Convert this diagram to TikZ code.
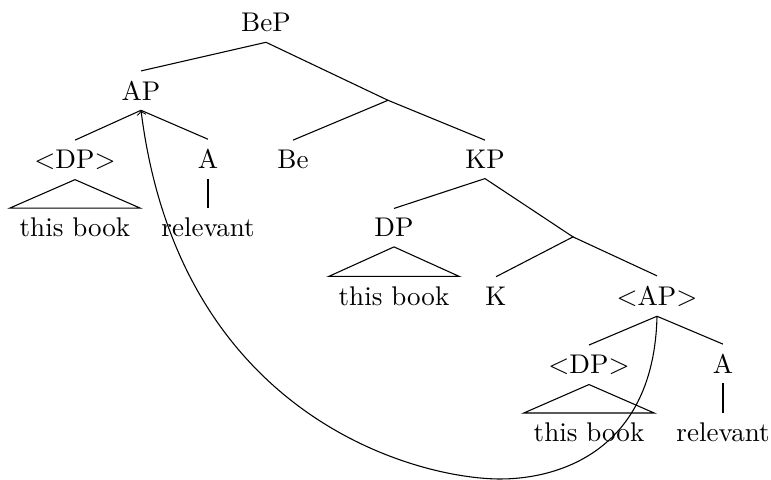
\documentclass[tikz,border=0pt]{standalone}
\begin{document}
\begin{tikzpicture}[x=0.37pt,y=-0.37pt,every node/.style={anchor=base,inner sep=3.5pt}]
        \useasboundingbox (0,0) rectangle (771,480);
        % upper tree
        \node (bep) at (266,32) {BeP};
        \node (ap) at (141,100.3) {AP};
        \coordinate (bebar) at (388,100.3);
        \node (dpa) at (75,168.6) {$<$DP$>$};
        \node (aa) at (208,168.6) {A};
        \node (be) at (293,168.6) {Be};
        \node (kp) at (485,168.6) {KP};
        \node (tba) at (75,236.9) {this book};
        \node (rela) at (208,236.9) {relevant};
        \node (dpb) at (394,236.9) {DP};
        \coordinate (kbar) at (573,236.9);
        \node (tbb) at (394,305.2) {this book};
        \node (k) at (496,305.2) {K};
        \node (apl) at (657,305.2) {$<$AP$>$};
        % lower copy
        \node (dpc) at (589,373.5) {$<$DP$>$};
        \node (ac) at (723,373.5) {A};
        \node (tbc) at (589,441.8) {this book};
        \node (relc) at (723,441.8) {relevant};
        \coordinate (bottom) at (500,479);

        \draw (bep.south) -- (ap.north);
        \draw (bep.south) -- (bebar) -- (be.north);
        \draw (bebar) -- (kp.north);
        \draw (ap.south) -- (dpa.north);
        \draw (ap.south) -- (aa.north);
        \draw (dpa.south) -- (tba.north west) -- (tba.north east) -- cycle;
        \draw (aa.south) -- (rela.north);
        \draw (kp.south) -- (dpb.north);
        \draw (kp.south) -- (kbar) -- (k.north);
        \draw (kbar) -- (apl.north);
        \draw (dpb.south) -- (tbb.north west) -- (tbb.north east) -- cycle;
        \draw (apl.south) -- (dpc.north);
        \draw (apl.south) -- (ac.north);
        \draw (dpc.south) -- (tbc.north west) -- (tbc.north east) -- cycle;
        \draw (ac.south) -- (relc.north);

        % movement
        \draw[->] (apl.south) .. controls (654,450) and (560,479) .. (bottom) .. controls (420,479) and (180,420) .. (ap.south);
    \end{tikzpicture}
\end{document}
